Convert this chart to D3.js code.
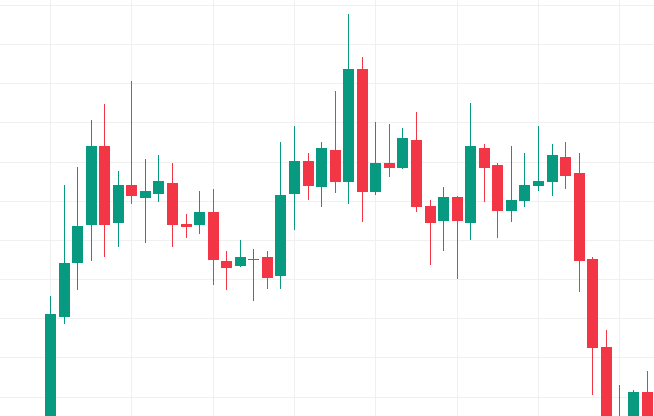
<!DOCTYPE html>
<html>
<head>
<meta charset="utf-8">
<script src="https://cdn.jsdelivr.net/npm/d3@7/dist/d3.min.js"></script>
<style>
  html, body { margin: 0; padding: 0; background: #ffffff; overflow: hidden; }
  svg { display: block; }
</style>
</head>
<body>
<svg id="chart" width="654" height="416"></svg>
<script>
// ---- data (price units) ----
const opens  = [88.9,120.4,134.0,143.9,164.0,144.4,154.0,150.8,151.8,154.6,144.1,143.9,147.2,134.6,133.4,135.1,135.7,130.9,151.8,160.2,153.4,163.0,154.9,183.7,152.3,159.7,158.5,165.5,148.7,144.9,151.0,144.4,163.5,159.2,147.5,150.0,153.9,154.9,161.2,157.1,135.2,112.7,90.0,92.0,101.2];
const highs  = [125.7,154.0,158.6,170.6,174.7,157.6,180.6,160.7,161.7,159.7,146.6,152.5,153.0,137.3,140.1,137.8,137.3,165.0,169.1,162.2,165.0,178.1,197.7,186.7,170.1,169.6,168.6,172.7,150.2,153.5,151.1,175.0,164.5,159.7,164.0,162.2,169.1,164.5,165.0,162.2,135.7,117.1,103.0,101.7,106.6];
const lows   = [86.0,118.6,127.1,134.7,135.7,138.3,149.3,139.1,149.8,138.3,140.6,141.6,128.6,127.1,133.2,124.3,127.6,127.6,142.6,150.3,148.3,152.1,149.3,144.7,151.6,156.2,158.2,147.2,133.7,137.3,130.1,140.1,149.8,140.6,144.7,148.3,152.6,151.1,153.1,126.8,100.3,80.0,88.0,88.0,89.0];
const closes = [121.1,134.1,143.6,164.0,143.9,154.0,151.3,152.5,155.1,143.9,143.4,147.2,135.0,132.9,135.7,135.2,130.4,151.5,160.2,153.9,163.5,154.9,183.7,152.3,159.7,158.5,166.0,148.5,144.4,151.0,144.9,164.0,158.5,147.5,150.2,154.0,155.1,161.7,156.4,134.5,112.5,86.4,94.0,101.2,93.0];
const gridValues = [100,110,120,130,140,150,160,170,180,190,200];
const timeGridEvery = 6;

const candles = opens.map((o, i) => ({ i, o, h: highs[i], l: lows[i], c: closes[i] }));

const W = 654, H = 416;
const svg = d3.select("#chart");

const x = d3.scaleLinear().domain([0, opens.length - 1]).range([45, 45 + (opens.length - 1) * 13.557]);
const y = d3.scaleLinear().domain([100, 200]).range([396.6, 5.0]);
const bodyW = 11;
const up = "#089981", down = "#f23645";

// grid
const grid = svg.append("g");
grid.selectAll("line.h").data(gridValues).enter().append("line")
  .attr("x1", 0).attr("x2", W)
  .attr("y1", d => Math.round(y(d)) + 0.5).attr("y2", d => Math.round(y(d)) + 0.5)
  .attr("stroke", "#f0f0f0").attr("stroke-width", 1);
grid.selectAll("line.v").data(candles.filter(d => d.i % timeGridEvery === 0)).enter().append("line")
  .attr("x1", d => Math.round(x(d.i)) + 5.5).attr("x2", d => Math.round(x(d.i)) + 5.5)
  .attr("y1", 0).attr("y2", H)
  .attr("stroke", "#f0f0f0").attr("stroke-width", 1);

// candles
const g = svg.append("g").attr("shape-rendering", "crispEdges");
const cg = g.selectAll("g.c").data(candles).enter().append("g");
cg.append("rect")
  .attr("x", d => Math.round(x(d.i)) + 5)
  .attr("width", 1)
  .attr("y", d => Math.round(y(d.h)))
  .attr("height", d => Math.max(1, Math.round(y(d.l)) - Math.round(y(d.h))))
  .attr("fill", d => d.c >= d.o ? up : down);
cg.append("rect")
  .attr("x", d => Math.round(x(d.i)))
  .attr("width", bodyW)
  .attr("y", d => Math.round(y(Math.max(d.o, d.c))))
  .attr("height", d => Math.max(1, Math.round(y(Math.min(d.o, d.c))) - Math.round(y(Math.max(d.o, d.c)))))
  .attr("fill", d => d.c >= d.o ? up : down);
</script>
</body>
</html>
